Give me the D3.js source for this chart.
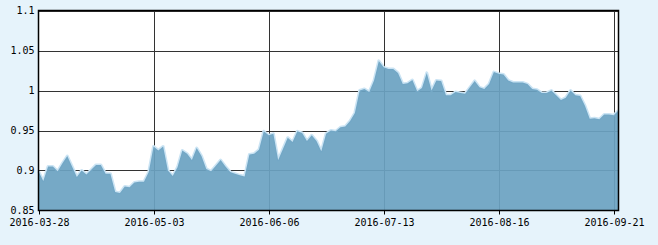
<!DOCTYPE html>
<html>
<head>
<meta charset="utf-8">
<script src="https://cdn.jsdelivr.net/npm/d3@7"></script>
<style>
  body { margin: 0; background: #e6f3fb; }
  #graph-container { width: 658px; height: 245px; }
  text { font-family: "DejaVu Sans Mono", "Liberation Mono", monospace; font-size: 10px; fill: #000; }
</style>
</head>
<body>
<div id="graph-container"></div>
<script>
const dates = [
  "2016-03-28","2016-03-29","2016-03-30","2016-03-31",
  "2016-04-01","2016-04-05","2016-04-06","2016-04-07","2016-04-08",
  "2016-04-11","2016-04-12","2016-04-13","2016-04-14","2016-04-15",
  "2016-04-18","2016-04-19","2016-04-20","2016-04-21","2016-04-22",
  "2016-04-25","2016-04-26","2016-04-27","2016-04-28","2016-04-29",
  "2016-05-03","2016-05-04","2016-05-05","2016-05-06",
  "2016-05-09","2016-05-10","2016-05-11","2016-05-12","2016-05-13",
  "2016-05-16","2016-05-17","2016-05-18","2016-05-19","2016-05-20",
  "2016-05-23","2016-05-24","2016-05-25","2016-05-26","2016-05-27",
  "2016-05-30","2016-05-31","2016-06-01","2016-06-02","2016-06-03",
  "2016-06-06","2016-06-07",
  "2016-06-13","2016-06-14","2016-06-15","2016-06-16","2016-06-17",
  "2016-06-20","2016-06-21","2016-06-22","2016-06-23","2016-06-24",
  "2016-06-27","2016-06-28","2016-06-29","2016-06-30","2016-07-01",
  "2016-07-04","2016-07-05","2016-07-06","2016-07-07","2016-07-08",
  "2016-07-11","2016-07-12","2016-07-13","2016-07-14","2016-07-15",
  "2016-07-18","2016-07-19","2016-07-20","2016-07-21","2016-07-22",
  "2016-07-25","2016-07-26","2016-07-27","2016-07-28","2016-07-29",
  "2016-08-01","2016-08-02","2016-08-03","2016-08-04","2016-08-05",
  "2016-08-08","2016-08-09","2016-08-10","2016-08-11","2016-08-12",
  "2016-08-15","2016-08-16","2016-08-17","2016-08-18","2016-08-19",
  "2016-08-22","2016-08-23","2016-08-24","2016-08-25","2016-08-26",
  "2016-08-29","2016-08-30","2016-08-31","2016-09-01","2016-09-02",
  "2016-09-05","2016-09-06","2016-09-07","2016-09-08","2016-09-09",
  "2016-09-12","2016-09-13","2016-09-14","2016-09-19","2016-09-20",
  "2016-09-21","2016-09-22"
]

const values = [
  0.899, 0.887, 0.905, 0.905, 0.899, 0.909, 0.918, 0.905, 0.892, 0.900,
  0.895, 0.901, 0.907, 0.907, 0.896, 0.896, 0.873, 0.872, 0.880, 0.879,
  0.885, 0.886, 0.886, 0.898, 0.930, 0.925, 0.930, 0.900, 0.893, 0.904,
  0.925, 0.921, 0.913, 0.928, 0.918, 0.902, 0.899, 0.906, 0.913, 0.905,
  0.898, 0.896, 0.894, 0.8925, 0.920, 0.921, 0.926, 0.949, 0.944, 0.946,
  0.913, 0.927, 0.941, 0.9355, 0.949, 0.947, 0.937, 0.944, 0.937, 0.924,
  0.946, 0.950, 0.949, 0.954, 0.955, 0.962, 0.972, 1.000, 1.002, 0.998,
  1.0125, 1.037, 1.029, 1.027, 1.027, 1.022, 1.008, 1.009, 1.013, 0.999,
  1.003, 1.022, 1.000, 1.0125, 1.012, 0.994, 0.994, 0.998, 0.997, 0.996,
  1.004, 1.012, 1.004, 1.002, 1.008, 1.023, 1.021, 1.020, 1.0125, 1.010,
  1.010, 1.010, 1.008, 1.002, 1.001, 0.997, 0.997, 1.000, 0.994, 0.988,
  0.991, 1.000, 0.994, 0.993, 0.981, 0.9646, 0.9654, 0.964, 0.970, 0.970,
  0.969, 0.975
]

const xTickLabels = ["2016-03-28","2016-05-03","2016-06-06","2016-07-13","2016-08-16","2016-09-21"]
const yTicks = [0.85, 0.9, 0.95, 1, 1.05, 1.1]

const width = 658
const height = 245
const plotLeft = 38.5, plotRight = 618.5, plotTop = 10.5, plotBottom = 210.5

const data = dates.map((d, i) => ({date: d, value: values[i]}))

const x = d3.scalePoint()
  .domain(dates)
  .range([plotLeft, plotRight])

const y = d3.scaleLinear()
  .domain([0.85, 1.1])
  .range([plotBottom, plotTop])

const svg = d3.select("#graph-container")
  .append("svg")
  .attr("id", "graph")
  .attr("width", width)
  .attr("height", height)

// plot background
svg.append("rect")
  .attr("x", plotLeft).attr("y", plotTop)
  .attr("width", plotRight - plotLeft).attr("height", plotBottom - plotTop)
  .attr("fill", "#fff")

// grid lines
svg.append("g")
  .selectAll("line")
  .data(yTicks.slice(1))
  .enter()
  .append("line")
  .attr("x1", plotLeft).attr("x2", plotRight)
  .attr("y1", d => Math.round(y(d)) + 0.5)
  .attr("y2", d => Math.round(y(d)) + 0.5)
  .attr("stroke", "#333")

svg.append("g")
  .selectAll("line")
  .data(xTickLabels.slice(1))
  .enter()
  .append("line")
  .attr("x1", d => Math.round(x(d)) + 0.5)
  .attr("x2", d => Math.round(x(d)) + 0.5)
  .attr("y1", plotTop).attr("y2", plotBottom)
  .attr("stroke", "#333")

// light glow on top edge, then the area over it
const line = d3.line()
  .x(d => x(d.date))
  .y(d => y(d.value))

svg.append("path")
  .datum(data)
  .attr("d", line)
  .attr("fill", "none")
  .attr("stroke", "#cbe4f4")
  .attr("stroke-width", 3)
  .attr("stroke-linejoin", "round")

const area = d3.area()
  .x(d => x(d.date))
  .y0(plotBottom)
  .y1(d => y(d.value))

svg.append("path")
  .datum(data)
  .attr("d", area)
  .attr("fill", "rgb(108,162,194)")
  .attr("fill-opacity", 0.93)

// frame
svg.append("rect")
  .attr("x", plotLeft).attr("y", plotTop)
  .attr("width", plotRight - plotLeft).attr("height", plotBottom - plotTop)
  .attr("fill", "none")
  .attr("stroke", "#000")
  .attr("stroke-width", 1.5)

// x axis ticks and labels
const xt = svg.append("g")
  .selectAll("g")
  .data(xTickLabels)
  .enter()
  .append("g")
  .attr("transform", d => `translate(${Math.round(x(d)) + 0.5}, ${plotBottom})`)

xt.append("line")
  .attr("y1", 0).attr("y2", 4)
  .attr("stroke", "#000")

xt.append("text")
  .attr("y", 15.5)
  .style("text-anchor", "middle")
  .text(d => d)

// y axis labels
svg.append("g")
  .selectAll("text")
  .data(yTicks)
  .enter()
  .append("text")
  .attr("x", plotLeft - 4)
  .attr("y", d => y(d) + 3.5)
  .style("text-anchor", "end")
  .text(d => d3.format("")(d))
</script>
</body>
</html>
